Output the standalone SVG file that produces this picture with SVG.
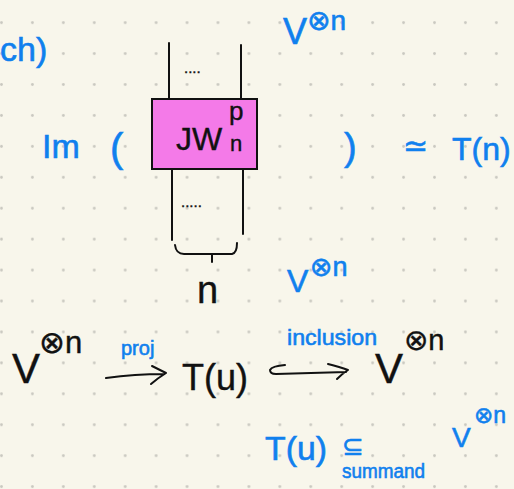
<svg xmlns="http://www.w3.org/2000/svg" width="514" height="489" viewBox="0 0 514 489">
<style>
text{font-family:"Liberation Sans","DejaVu Sans",sans-serif}
.b{fill:#1080ee;stroke:#1080ee;stroke-width:0.6}
.k{fill:#111;stroke:#111;stroke-width:0.4}
.ln{stroke:#111;stroke-width:2;fill:none;stroke-linecap:round;stroke-linejoin:round}
</style>
<defs>
<pattern id="dots" patternUnits="userSpaceOnUse" x="-14" y="7.2" width="30.93" height="30.93">
<circle cx="15.47" cy="15.47" r="1.4" fill="#c9c8c0"/>
</pattern>
</defs>
<rect width="514" height="489" fill="#f8f6eb"/>
<rect width="514" height="489" fill="url(#dots)"/>

<g id="connectors">
<path class="ln" d="M169,43 L169,99 M241,45 L241,99 M172,169 L172,240 M243,169 L243,234"/>
<path class="ln" d="M175,245 Q176,254 184,254 L232,254 Q237,253 237,243 M212,254 L212,262"/>
<path class="ln" d="M106,378 Q135,374 164,374 M152,366 Q160,370 166,373 Q158,378 151,384" stroke-width="2.4"/>
<path class="ln" d="M285,365 Q272,366 270,370 Q270,374 276,374 L346,372 M328,364 Q340,367 348,370 Q342,374 337,379" stroke-width="2.4"/>
</g>

<g id="box">
<rect x="152" y="99" width="105" height="70" fill="#f47ae8" stroke="#111" stroke-width="2"/>
<text class="k" x="176" y="150" font-size="32">JW</text>
<text class="k" x="230" y="151" font-size="22">n</text>
<text class="k" x="229" y="120" font-size="26">p</text>
</g>
<g id="dots-top"><text class="k" x="184" y="73" font-size="15">....</text></g>
<g id="dots-bottom"><text class="k" x="181" y="207" font-size="15">.....</text></g>
<g id="n-label"><text class="k" x="197" y="303" font-size="38">n</text></g>

<g id="ch"><text class="b" x="0" y="61" font-size="34">ch)</text></g>
<g id="v-top"><text class="b" x="283" y="44" font-size="36">V<tspan x="307" y="30" font-size="28">⊗n</tspan></text></g>
<g id="im"><text class="b" x="42" y="158" font-size="34">Im</text><text class="b" x="110" y="162" font-size="40">(</text></g>
<g id="close"><text class="b" x="344" y="160" font-size="38">)</text></g>
<g id="iso"><text class="b" x="403" y="156" font-size="30">≃</text><text class="b" x="452" y="160" font-size="32">T(n)</text></g>
<g id="v-mid"><text class="b" x="287" y="292" font-size="32">V<tspan x="310" y="276" font-size="27">⊗n</tspan></text></g>

<g id="v-left"><text class="k" x="12" y="383" font-size="42">V<tspan x="39" y="353" font-size="31">⊗n</tspan></text></g>
<g id="proj"><text class="b" x="121" y="355" font-size="20">proj</text></g>
<g id="tu"><text class="k" x="182" y="390" font-size="36">T(u)</text></g>
<g id="inclusion"><text class="b" x="287" y="345" font-size="22" textLength="90" lengthAdjust="spacingAndGlyphs">inclusion</text></g>
<g id="v-right"><text class="k" x="375" y="383" font-size="42">V<tspan x="404" y="350" font-size="29">⊗n</tspan></text></g>

<g id="tu-sub"><text class="b" x="265" y="460" font-size="33" textLength="62" lengthAdjust="spacingAndGlyphs">T(u)</text>
<text class="b" x="342" y="455" font-size="26">⊆</text>
<text class="b" x="342" y="478" font-size="20" textLength="83" lengthAdjust="spacingAndGlyphs">summand</text></g>
<g id="v-br"><text class="b" x="452" y="447" font-size="28">V<tspan x="474" y="423" font-size="23">⊗n</tspan></text></g>
</svg>
